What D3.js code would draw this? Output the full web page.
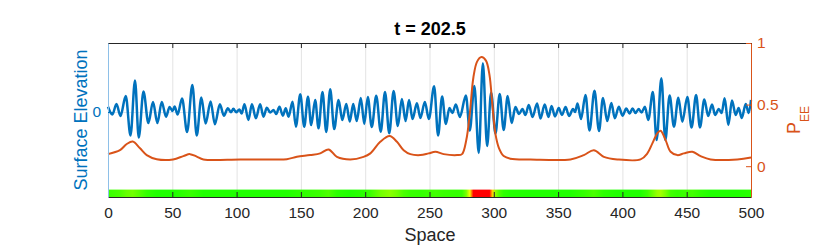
<!DOCTYPE html>
<html>
<head>
<meta charset="utf-8">
<script src="https://cdn.jsdelivr.net/npm/d3@7"></script>
<style>
body { margin: 0; background: #fff; }
svg { font-family: Arial, "Liberation Sans", Helvetica, sans-serif; }
</style>
</head>
<body>
<script>
var etaSpace = [0, 3.4, 6.6, 9.7, 13.8, 17.5, 21.0, 23.9, 27.6, 31.4, 35.0, 38.4, 41.8, 45.1, 47.9, 50.2, 51.8, 54.1, 57.6, 61.5,
  65.6, 69.0, 72.6, 75.9, 79.8, 83.1, 87.0, 90.1, 93.2, 95.7, 97.5, 99.6, 102.2, 103.9, 106.1, 109.2, 111.9, 115.0, 118.3, 120.9,
  123.5, 126.1, 128.7, 130.8, 133.3, 136.0, 138.2, 140.4, 143.5, 146.1, 149.5, 152.6, 155.5, 158.0, 161.1, 163.7, 166.8, 169.7, 172.8, 175.9,
  179.3, 182.2, 185.3, 188.0, 190.7, 193.4, 196.6, 199.3, 202.0, 205.1, 208.6, 212.1, 215.4, 218.7, 222.1, 225.4, 228.5, 231.4, 234.1, 236.8,
  240.2, 242.9, 246.4, 249.5, 253.6, 256.7, 259.8, 262.7, 265.5, 267.8, 270.5, 273.6, 278.3, 281.3, 284.9, 288.3, 291.5, 294.8, 297.9, 301.3,
  304.6, 307.7, 310.8, 313.9, 316.8, 319.6, 322.3, 324.6, 327.2, 330.1, 333.7, 336.3, 339.6, 342.5, 344.9, 347.6, 350.5, 353.0, 355.8, 358.5,
  361.6, 363.2, 365.1, 367.8, 371.3, 374.4, 378.3, 381.8, 384.9, 388.2, 391.4, 394.1, 397.2, 400.1, 403.0, 405.6, 407.9, 410.2, 412.6, 414.9,
  417.5, 420.1, 423.7, 426.6, 430.3, 433.4, 436.7, 440.1, 443.5, 446.6, 450.5, 453.8, 457.3, 460.3, 463.7, 466.7, 469.7, 472.1, 474.9, 477.2,
  479.5, 482.4, 485.2, 488.1, 490.4, 492.8, 495.9, 498.2, 500];
var etaValue = [5.3, -2.5, 8, -4, 16, -23.5, 31.5, -25.5, 20.5, -11, 10, -11, 10, -4.7, 5, 1, 5.5, -2.5, 13.5, -20,
  27, -23.5, 14.5, -11.5, 10.5, -12.3, 7.7, -3.7, 3.7, -0.3, 3.2, -0.3, 2.5, -1.5, 7.7, -8, 7.7, -6.3, 7.7, -4.7,
  4.3, -0.5, 2, -2, 5.3, -3.7, 3.7, -4.7, 10.3, -14.7, 17.7, -14.7, 15.3, -13, 12, -16.3, 20, -20, 22.7, -17,
  12, -8, 8, -9.5, 8, -9, 14, -12, 15, -15, 16.3, -19.7, 20, -21.3, 21, -14, 13, -9, 12, -7,
  8.7, -6, 10, -7, 25.7, -23.5, 15.5, -12, 4, -1, 7.5, -5, 16.5, -18.5, 26, -41, 48.7, -34, 19.5, -21.5,
  18, -18, 16, -11, 5, -2, 3, -3, 7, -5, 8.5, -6.5, 7.5, -5, 6, -4.5, 4, -3, 5, -4,
  3, 0, 8.5, -7, 17, -18.5, 21.3, -19, 14, -9, 9, -6.3, 5.3, -3.7, 3.5, -1.5, 3.5, -1, 3, -0.5,
  5.3, -8, 20, -28, 33.7, -28, 16.5, -14.7, 14.3, -9.7, 15, -15.5, 17, -15.5, 12.5, -4, 7.5, -3, 3, -1,
  13.7, -13, 11.5, -3, 4, -6, 8, -1, 12];

// P_EE along the domain
var peeSpace = [0, 9.3, 14.6, 19.2, 24.9, 30.1, 37.9, 50.6, 58.6, 63.8, 69.0, 74.2, 102.8, 126.1, 139.1, 146.9, 157.2, 165.0, 171.5, 178.0,
  188.4, 198.7, 204.0, 211.7, 219.0, 224.7, 229.9, 235.1, 242.9, 249.3, 254.6, 261.0, 271.5, 275.3, 278.6, 281.4, 284.1, 287.0, 290.4, 293.9,
  296.6, 298.9, 301.3, 304.0, 307.7, 312.9, 328.5, 359.6, 370.0, 377.8, 385.6, 396.0, 414.1, 419.4, 423.3, 427.1, 429.7, 433.6, 437.5, 442.7,
  447.8, 454.4, 460.8, 468.6, 489.4, 500];
var peeValue = [0.098, 0.13, 0.18, 0.20, 0.145, 0.09, 0.057, 0.055, 0.082, 0.098, 0.078, 0.055, 0.055, 0.055, 0.057, 0.076, 0.09, 0.104, 0.136, 0.076,
  0.055, 0.076, 0.104, 0.198, 0.245, 0.198, 0.13, 0.098, 0.09, 0.104, 0.117, 0.098, 0.09, 0.098, 0.212, 0.433, 0.718, 0.849, 0.886, 0.857,
  0.743, 0.498, 0.26, 0.147, 0.082, 0.061, 0.055, 0.055, 0.09, 0.13, 0.076, 0.055, 0.055, 0.104, 0.185, 0.267, 0.288, 0.212, 0.117, 0.09,
  0.104, 0.117, 0.082, 0.055, 0.055, 0.071];

var xTicks = [0, 50, 100, 150, 200, 250, 300, 350, 400, 450, 500];
var etaTicks = [0];
var peeTicks = [0, 0.5, 1];

var width = 830,
    height = 249;
// plot box (window.top is read-only, so no "top" here)
var boxL = 108, boxR = 751, boxT = 43, boxB = 197;

var blue = "#0072bd", orange = "#d95319", ink = "#262626";

var x = d3.scaleLinear().domain([0, 500]).range([boxL, boxR]);
var yL = d3.scaleLinear().domain([-85, 69]).range([boxB, boxT]);
var yR = d3.scaleLinear().domain([-0.25, 1]).range([boxB, boxT]);
var heat = d3.scaleLinear().domain([0, 0.45, 0.7])
    .range(["#00ff00", "#ffff00", "#ff0000"]).clamp(true);

var svg = d3.select("body").append("svg")
    .attr("width", width)
    .attr("height", height);

// grid
svg.append("g").selectAll("line")
  .data(xTicks.slice(1, -1))
  .enter().append("line")
    .attr("x1", function(d){ return x(d) + 0.5 })
    .attr("x2", function(d){ return x(d) + 0.5 })
    .attr("y1", boxT)
    .attr("y2", boxB)
    .attr("stroke", "#e3e3e3");

svg.append("g").selectAll("line")
  .data(etaTicks)
  .enter().append("line")
    .attr("x1", boxL)
    .attr("x2", boxR)
    .attr("y1", function(d){ return yL(d) + 0.5 })
    .attr("y2", function(d){ return yL(d) + 0.5 })
    .attr("stroke", "#d6e6f3");

// colour strip of P_EE at the bottom
var grad = svg.append("defs").append("linearGradient")
    .attr("id", "strip")
    .attr("gradientUnits", "userSpaceOnUse")
    .attr("x1", x(0)).attr("x2", x(500))
    .attr("y1", 0).attr("y2", 0);
grad.selectAll("stop")
  .data(peeSpace)
  .enter().append("stop")
    .attr("offset", function(d){ return d / 500 })
    .attr("stop-color", function(d, i){ return heat(peeValue[i]) });

svg.append("rect")
    .attr("x", x(0))
    .attr("width", x(500) - x(0))
    .attr("y", yR(-0.19))
    .attr("height", yR(-0.25) - yR(-0.19))
    .attr("fill", "url(#strip)");

// lines
var etaLine = d3.line()
    .x(function(d, i){ return x(etaSpace[i]) })
    .y(function(d){ return yL(d) })
    .curve(d3.curveMonotoneX);

svg.append("path")
    .datum(etaValue)
    .attr("d", etaLine)
    .attr("fill", "none")
    .attr("stroke", blue)
    .attr("stroke-width", 2.5)
    .attr("stroke-linejoin", "round");

var peeLine = d3.line()
    .x(function(d, i){ return x(peeSpace[i]) })
    .y(function(d){ return yR(d) })
    .curve(d3.curveCatmullRom.alpha(0.5));

svg.append("path")
    .datum(peeValue)
    .attr("d", peeLine)
    .attr("fill", "none")
    .attr("stroke", orange)
    .attr("stroke-width", 2)
    .attr("stroke-linejoin", "round");

// axes
var xAxis = svg.append("g")
    .attr("transform", "translate(0," + boxB + ")")
    .call(d3.axisBottom(x).tickValues(xTicks).tickSizeInner(-5).tickSizeOuter(0).tickPadding(10));
xAxis.selectAll("text").attr("font-size", "15.5px").attr("fill", ink).attr("font-family", null);
xAxis.selectAll("line, path").attr("stroke", ink);

var topAxis = svg.append("g")
    .attr("transform", "translate(0," + boxT + ")")
    .call(d3.axisTop(x).tickValues(xTicks).tickSizeInner(-5).tickSizeOuter(0).tickFormat(""));
topAxis.selectAll("line, path").attr("stroke", ink);

var lAxis = svg.append("g")
    .attr("transform", "translate(" + boxL + ",0)")
    .call(d3.axisLeft(yL).tickValues(etaTicks).tickSizeInner(-5).tickSizeOuter(0).tickPadding(7));
lAxis.selectAll("text").attr("font-size", "15.5px").attr("fill", blue).attr("font-family", null);
lAxis.selectAll("line").attr("stroke", blue);
lAxis.select("path").attr("stroke", "#8ec0e8");

var rAxis = svg.append("g")
    .attr("transform", "translate(" + boxR + ",0)")
    .call(d3.axisRight(yR).tickValues(peeTicks).tickSizeInner(-5).tickSizeOuter(0).tickPadding(6)
      .tickFormat(function(d){ return String(d) }));
rAxis.selectAll("text").attr("font-size", "15.5px").attr("fill", orange).attr("font-family", null);
rAxis.selectAll("line, path").attr("stroke", orange);

// labels
svg.append("text")
    .attr("x", 430).attr("y", 35)
    .attr("text-anchor", "middle")
    .attr("font-size", "18px")
    .attr("font-weight", "bold")
    .attr("fill", "#000")
    .text("t = 202.5");

svg.append("text")
    .attr("x", 430).attr("y", 240.5)
    .attr("text-anchor", "middle")
    .attr("font-size", "18px")
    .attr("fill", ink)
    .text("Space");

svg.append("text")
    .attr("transform", "translate(86.5,120) rotate(-90)")
    .attr("text-anchor", "middle")
    .attr("font-size", "18px")
    .attr("fill", blue)
    .text("Surface Elevation");

var pLabel = svg.append("text")
    .attr("transform", "translate(799.5,120) rotate(-90)")
    .attr("text-anchor", "middle")
    .attr("font-size", "18px")
    .attr("fill", orange)
    .text("P");
pLabel.append("tspan")
    .attr("dy", 9)
    .attr("font-size", "12px")
    .text("EE");
</script>
</body>
</html>
